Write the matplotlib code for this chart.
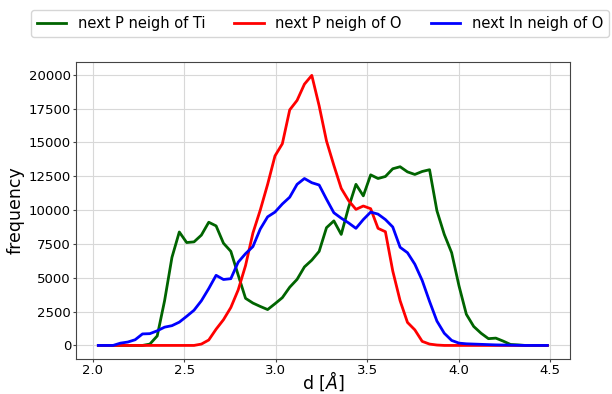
import matplotlib
matplotlib.use('Agg')
import matplotlib.pyplot as plt
import numpy as np

# bin centers of the distance histograms (angstrom)
d = np.linspace(2.03, 4.485, 62)

p_neigh_ti = [0, 0, 0, 0, 0, 0, 0, 100, 700, 3300,
              6500, 8380, 7600, 7650, 8150, 9100, 8830, 7550, 6950, 5200,
              3480, 3130, 2880, 2650, 3080, 3530, 4300, 4880, 5800, 6300,
              6950, 8700, 9200, 8200, 10200, 11900, 11050, 12600, 12330, 12480,
              13050, 13200, 12820, 12630, 12850, 12980, 9950, 8200, 6850, 4400,
              2300, 1400, 900, 500, 540, 320, 70, 40, 0, 0,
              0, 0]

p_neigh_o = [0, 0, 0, 0, 0, 0, 0, 0, 0, 0,
             0, 0, 0, 0, 100, 400, 1200, 1900, 2800, 4100,
             5900, 8300, 10000, 11900, 14000, 14900, 17400, 18100, 19300, 19950,
             17700, 15100, 13300, 11600, 10700, 10050, 10300, 10100, 8650, 8400,
             5500, 3300, 1700, 1150, 300, 100, 30, 0, 0, 0,
             0, 0, 0, 0, 0, 0, 0, 0, 0, 0,
             0, 0]

in_neigh_o = [0, 0, 0, 170, 250, 420, 850, 870, 1080, 1350,
              1460, 1720, 2150, 2600, 3300, 4200, 5180, 4870, 4930, 6150,
              6780, 7300, 8600, 9500, 9850, 10450, 10950, 11900, 12330, 12020,
              11850, 10800, 9800, 9400, 9050, 8650, 9300, 9850, 9700, 9300,
              8750, 7250, 6850, 6000, 4800, 3250, 1800, 900, 370, 170,
              120, 100, 80, 60, 40, 30, 20, 10, 0, 0,
              0, 0]


def make_plot():
    fig = plt.figure(figsize=(6.12, 3.94), dpi=100)
    ax = fig.add_axes([0.124, 0.089, 0.807, 0.754])
    ax.plot(d, p_neigh_ti, color='darkgreen', lw=2, label='next P neigh of Ti')
    ax.plot(d, p_neigh_o, color='red', lw=2, label='next P neigh of O')
    ax.plot(d, in_neigh_o, color='blue', lw=2, label='next In neigh of O')
    ax.set_yticks(np.arange(0, 20001, 2500))
    ax.tick_params(labelsize=9.5, length=2, pad=1.5, color='#444444')
    ax.grid(color='#d8d8d8', lw=0.8)
    for sp in ax.spines.values():
        sp.set_color('#444444')
    ax.set_xlabel(r'd [$\AA$]', fontsize=12.5, labelpad=-5)
    ax.set_ylabel('frequency', fontsize=12.5, labelpad=3)
    fig.legend(loc='upper left', bbox_to_anchor=(0.039, 0.993), ncol=3,
               fontsize=10.5, frameon=True)
    fig.savefig('out.png', dpi=100)


make_plot()
